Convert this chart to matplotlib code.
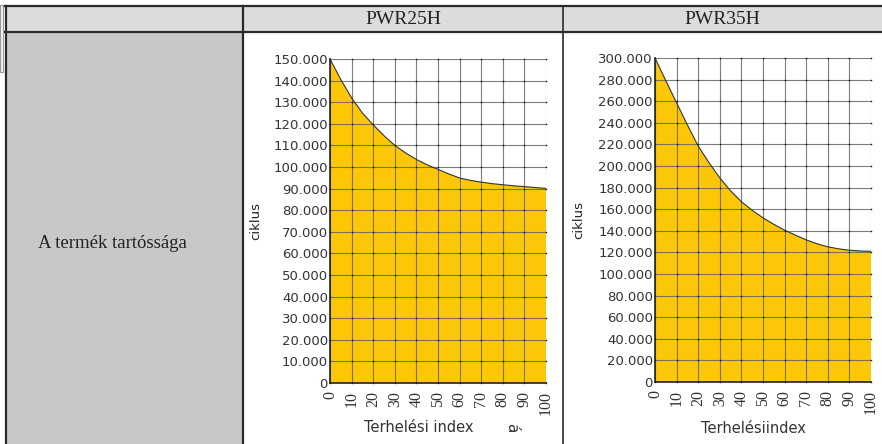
import numpy as np
import matplotlib
matplotlib.use("Agg")
import matplotlib.pyplot as plt
from matplotlib.patches import Rectangle
from matplotlib.ticker import FuncFormatter, MultipleLocator

# load index (x) and cycles
load_idx = [0, 5, 10, 15, 20, 25, 30, 35, 40, 45, 50, 55, 60, 65, 70, 75, 80, 85, 90, 95, 100]
cycles_25h = [150000, 140500, 132000, 125000, 119500, 114500, 110000, 106500, 103500, 101000,
              98900, 96800, 94900, 93800, 93000, 92300, 91800, 91300, 90900, 90500, 90100]
cycles_35h = [300000, 279000, 258500, 238000, 218500, 203000, 189000, 177000, 167000, 159000,
              152000, 146000, 140600, 136000, 131600, 128000, 125200, 123300, 122000, 121300, 121000]

headers = ["PWR25H", "PWR35H"]
row_label = "A termék tartóssága"
y_label = "ciklus"
x_labels = ["Terhelési index", "Terhelésiindex"]

W, H = 882, 444
fig = plt.figure(figsize=(W / 100, H / 100), dpi=100)

# table background drawn in pixel coords
bg = fig.add_axes([0, 0, 1, 1])
bg.set_xlim(0, W)
bg.set_ylim(H, 0)
bg.axis("off")
bg.add_patch(Rectangle((5, 6), W - 5, 26, facecolor="#dcdcdc", edgecolor="none"))
bg.add_patch(Rectangle((5, 32), 238, H - 32, facecolor="#c8c8c8", edgecolor="none"))
bg.add_patch(Rectangle((0, 5), 2.5, 67, facecolor="#f2f2f2", edgecolor="#999999", lw=0.8))
lc = "#2a2a2a"
bg.plot([5, W], [6.5, 6.5], color=lc, lw=1.6)
bg.plot([5, W], [32, 32], color=lc, lw=1.6)
bg.plot([5.5, 5.5], [6, H], color=lc, lw=1.6)
bg.plot([243, 243], [6, H], color=lc, lw=1.6)
bg.plot([563, 563], [6, H], color=lc, lw=1.2)
bg.text(403, 20, headers[0], ha="center", va="center", fontsize=14,
        family="Liberation Serif", color="#222222")
bg.text(722, 20, headers[1], ha="center", va="center", fontsize=14,
        family="Liberation Serif", color="#222222")
bg.text(38, 243, row_label, ha="left", va="center", fontsize=13.5,
        family="Liberation Serif", color="#222222")
bg.text(512, 428, "á", ha="center", va="center", fontsize=11, rotation=-90, color="#333333")


def thousands(v, pos):
    return f"{int(round(v)):,}".replace(",", ".")


def draw(box, y, ymax, ystep, xlabel, xlab_pos, ylab_x):
    l, r, t, b = box
    ax = fig.add_axes([l / W, (H - b) / H, (r - l) / W, (b - t) / H])
    ax.fill_between(load_idx, y, 0, facecolor="#fcc706", edgecolor="none", zorder=1)
    ax.plot(load_idx, y, color="#333333", lw=0.8, zorder=3)
    ax.set_xlim(0, 100)
    ax.set_ylim(0, ymax)
    ax.xaxis.set_major_locator(MultipleLocator(10))
    ax.yaxis.set_major_locator(MultipleLocator(ystep))
    ax.yaxis.set_major_formatter(FuncFormatter(thousands))
    ax.set_axisbelow(False)
    ax.grid(True, color="#666666", lw=0.8, alpha=0.85)
    gx, gy = np.meshgrid(np.arange(0, 101, 10), np.arange(0, ymax + 1, ystep))
    ax.plot(gx.ravel(), gy.ravel(), "s", color="#111111", ms=1.0, mew=0, zorder=4, clip_on=False)
    for s in ["top", "right"]:
        ax.spines[s].set_visible(False)
    for s in ["left", "bottom"]:
        ax.spines[s].set_color("#222222")
        ax.spines[s].set_linewidth(1.2)
        ax.spines[s].set_zorder(5)
    ax.tick_params(length=0, pad=1.5, colors="#333333")
    ax.tick_params(axis="y", labelsize=9.5)
    ax.tick_params(axis="x", labelsize=11.5, pad=6)
    for lab in ax.get_xticklabels():
        lab.set_rotation(90)
        lab.set_family("Liberation Serif")
    ax.set_ylabel(y_label, fontsize=9.5, color="#222222")
    ax.yaxis.set_label_coords(ylab_x, 0.5)
    ax.set_xlabel(xlabel, fontsize=10.5, color="#333333", va="center")
    ax.xaxis.set_label_coords(*xlab_pos)
    return ax


draw((330, 546, 59, 383), cycles_25h, 150000, 10000, x_labels[0], (0.412, -0.136), -0.315)
draw((655, 871, 58, 382), cycles_35h, 300000, 20000, x_labels[1], (0.456, -0.142), -0.324)

fig.savefig("out.png", dpi=100)
